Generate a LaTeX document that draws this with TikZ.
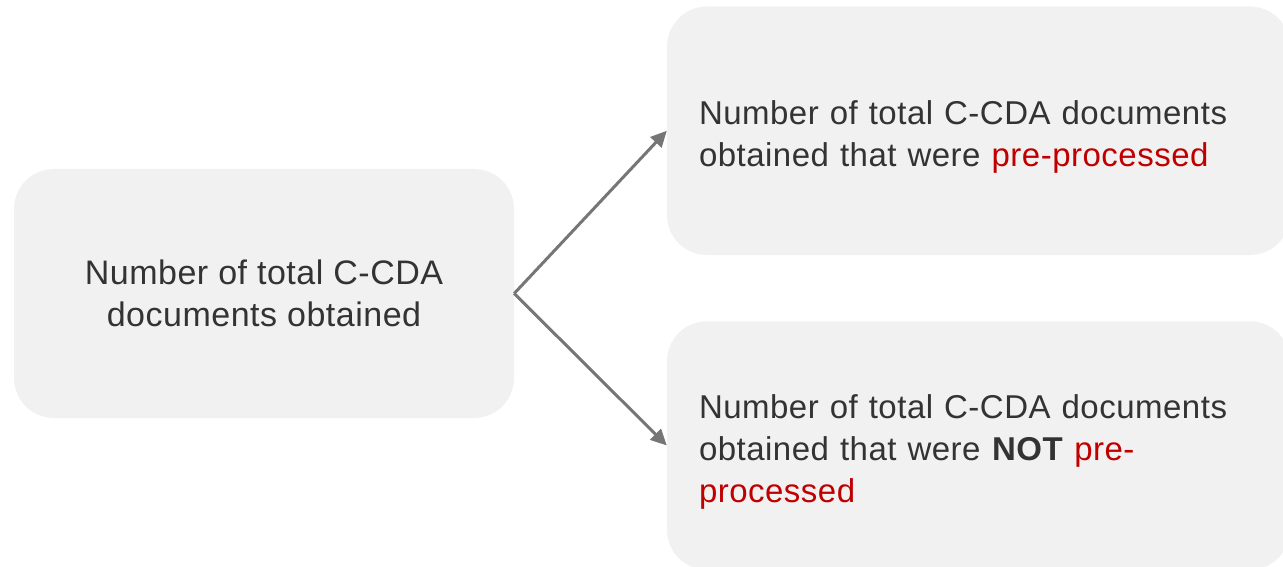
\documentclass[tikz,border=0pt]{standalone}
\usepackage{fontspec}
\setmainfont{Liberation Sans}[LetterSpace=1.5]
\usetikzlibrary{arrows.meta}
\definecolor{boxfill}{HTML}{F1F1F1}
\definecolor{txt}{HTML}{333333}
\definecolor{accent}{HTML}{C00000}
\definecolor{arrowc}{HTML}{767676}
\newcommand{\lowerstrut}{\rule{0pt}{36pt}}
\begin{document}
\begin{tikzpicture}[x=1pt,y=-1pt,
  box/.style={fill=boxfill, draw=none, rounded corners=40pt, text=txt, inner ysep=0pt},
  leftbox/.style={box, minimum width=500pt, minimum height=249pt, align=center,
    font=\fontsize{34}{42}\selectfont},
  rightbox/.style={box, minimum height=248.5pt, text width=559pt, inner xsep=32pt, align=left,
    font=\fontsize{33}{42}\selectfont},
  link/.style={line width=3pt, draw=arrowc, -{Triangle[length=16pt,width=15pt]}}
]
\useasboundingbox (0,0) rectangle (1283,567);
\clip (0,0) rectangle (1283,567);
\node[leftbox] (L) at (264,293.5) {Number of total C-CDA\\documents obtained};
\node[rightbox] (T) at (978.5,130.75) {\lowerstrut Number of total C-CDA documents\\obtained that were \textcolor{accent}{pre-processed}};
\node[rightbox] (B) at (978.5,445.5) {\lowerstrut Number of total C-CDA documents\\obtained that were \textbf{NOT} \textcolor{accent}{pre-}\\\textcolor{accent}{processed}};
\draw[link] (L.east) -- (T.west);
\draw[link] (L.east) -- (B.west);
\end{tikzpicture}
\end{document}
